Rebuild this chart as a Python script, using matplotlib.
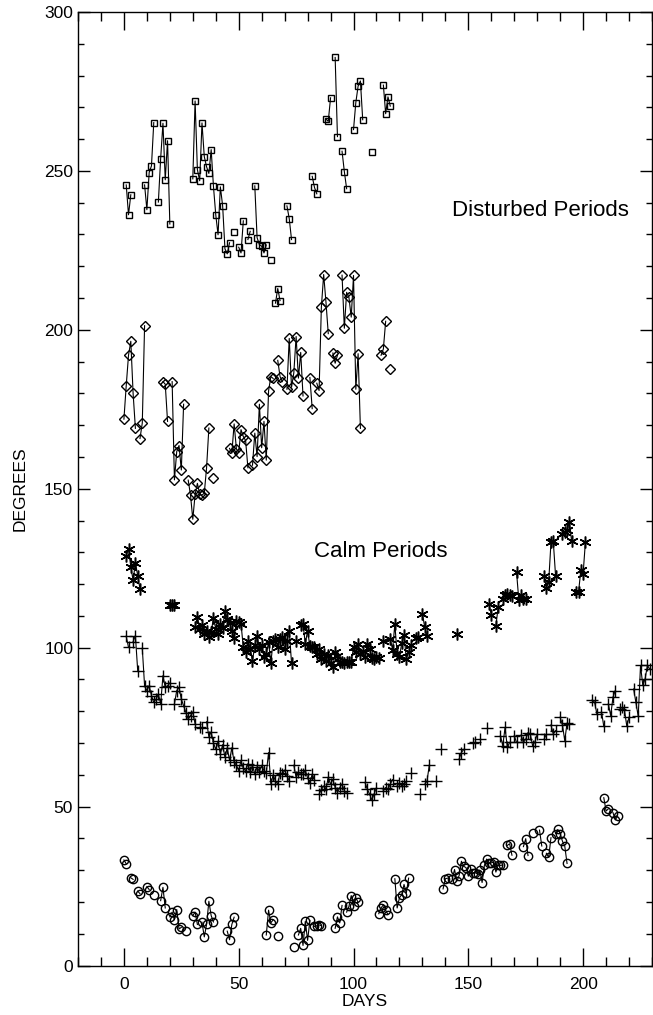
import matplotlib
matplotlib.use('Agg')
import matplotlib.pyplot as plt
import numpy as np
from matplotlib.ticker import MultipleLocator

plt.rcParams['font.family'] = ['Liberation Sans', 'DejaVu Sans']

# Disturbed periods, upper curve (squares)
sq_days = [1, 2, 3, 9, 10, 11, 12, 13, 15, 16, 17, 18, 19, 20,
           30, 31, 32, 33, 34, 35, 36, 37, 38, 39, 40, 41, 42, 43, 44, 45, 46,
           48, 50, 51, 52, 54, 55, 57, 58, 59, 60, 61, 62, 64, 66, 67, 68,
           71, 72, 73, 82, 83, 84, 88, 89, 90, 92, 93, 95, 96, 97,
           100, 101, 102, 103, 104, 108, 113, 114, 115, 116]
sq_vals = [245.6, 236.2, 242.5, 245.6, 237.8, 249.5, 251.6, 265.2, 240.2, 253.9, 265.0, 247.2, 259.5, 233.3,
           247.5, 272.0, 250.4, 246.9, 265.1, 254.5, 251.3, 249.2, 256.7, 245.1, 236.2, 229.9, 245.0, 239.0, 225.5, 223.9, 227.4,
           230.7, 226.0, 224.2, 234.3, 228.4, 231.0, 245.3, 229.0, 226.8, 226.3, 224.2, 226.7, 222.1, 208.4, 213.0, 209.2,
           239.0, 235.0, 228.4, 248.3, 244.8, 242.8, 266.3, 265.6, 273.0, 285.7, 260.8, 256.2, 249.8, 244.4,
           263.0, 271.5, 276.7, 278.3, 266.1, 255.8, 277.0, 268.0, 273.3, 270.4]

# Disturbed periods, lower curve (diamonds)
di_days = [0, 1, 2, 3, 4, 5, 7, 8, 9, 17, 18, 19, 21, 22, 23, 24, 25, 26,
           28, 29, 30, 31, 32, 33, 34, 35, 36, 37, 39,
           46, 47, 48, 49, 50, 51, 52, 53, 54, 56, 57, 58, 59, 60, 61, 62, 63, 64, 65,
           67, 68, 69, 71, 72, 73, 74, 75, 76, 77, 78, 81, 82, 84, 85, 86, 87, 88, 89,
           91, 92, 93, 95, 96, 97, 98, 99, 100, 101, 102, 103, 112, 113, 114, 116]
di_vals = [171.9, 182.4, 192.0, 196.4, 180.0, 169.0, 165.8, 170.7, 201.3, 183.7, 182.9, 171.2, 183.7, 152.8, 161.7, 163.6, 155.9, 176.6,
           152.7, 148.0, 140.4, 148.2, 151.7, 148.3, 148.0, 148.6, 156.6, 169.1, 153.3,
           162.7, 161.2, 170.4, 162.5, 161.4, 168.6, 166.4, 165.2, 156.6, 157.4, 167.5, 160.1, 176.6, 162.9, 171.2, 159.0, 180.8, 185.3, 184.7,
           190.4, 185.3, 183.7, 181.3, 197.3, 181.9, 186.5, 197.9, 184.8, 192.9, 179.2, 185.0, 175.2, 183.2, 180.9, 207.2, 217.4, 208.7, 198.8,
           192.7, 189.5, 192.0, 217.2, 200.5, 211.8, 210.2, 204.0, 217.1, 181.3, 192.5, 169.0, 192.0, 194.0, 202.7, 187.7]

# Calm periods, upper curve (asterisks)
as_days = [1, 2, 3, 4, 5, 6, 7, 20, 21, 22] + list(range(31, 74)) + \
          [75, 77, 78, 79, 80, 81, 82, 83, 84, 85, 86, 87, 88, 89, 90, 91, 92, 93, 94, 95, 96, 97, 98, 99,
           100, 101, 102, 103, 104, 105, 106, 107, 108, 109, 110, 111, 113, 116, 117, 118, 119, 120, 121, 122, 123, 124, 125,
           127, 128, 130, 131, 132, 145,
           159, 160, 162, 163, 165, 166, 167, 168, 169, 171, 172, 173, 174, 175,
           183, 184, 185, 186, 187, 188, 191, 192, 193, 194, 195, 197, 198, 199, 200, 201]
as_vals = [128.9, 131.2, 125.4, 121.2, 126.7, 122.7, 118.5, 113.5, 113.5, 113.5,
           106.4, 109.6, 105.9, 107.2, 104.3, 105.4, 103.3, 104.9, 109.3, 105.9, 104.3, 107.5, 106.1, 111.4, 109.1,
           107.8, 105.4, 103.0, 108.5, 108.0, 107.5, 100.1, 98.5, 102.2, 99.6, 95.9, 100.7, 103.8, 99.6, 100.9,
           97.0, 98.0, 101.7, 95.2, 102.2, 102.8, 100.1, 102.8, 103.3, 99.6, 102.2, 105.4, 95.2,
           102.2, 107.0, 107.5, 101.2, 105.4, 100.4, 100.1, 100.1, 98.0, 99.6, 96.4, 98.0, 95.9, 97.7, 95.2, 93.8, 98.5,
           97.5, 95.4, 95.4, 95.2, 95.4, 95.4, 95.4,
           100.1, 98.5, 101.2, 98.0, 99.1, 97.0, 101.2, 99.6, 96.8, 96.5, 97.0, 96.8, 102.2, 102.8, 99.4, 107.3, 98.0, 97.0,
           101.4, 104.0, 96.5, 98.6, 100.7, 103.0, 103.3, 110.7, 106.5, 103.6, 104.4,
           113.8, 110.4, 106.8, 112.8, 115.4, 116.7, 117.0, 116.5, 116.2, 123.8, 114.9, 116.5, 115.4, 115.4,
           122.6, 118.8, 120.7, 133.1, 133.5, 122.6, 135.7, 136.4, 137.0, 139.6, 133.5, 117.4, 117.4, 124.4, 123.3, 133.3]

# Calm periods, middle curve (plus signs)
pl_days = [1, 2, 4, 5, 6, 8, 9, 10, 11, 12, 13, 14, 15, 16, 17, 18, 19, 20, 22, 23, 24, 25, 26, 27, 28, 29, 30, 31, 33, 34,
           36, 37, 38, 39, 40, 41, 42, 43, 44, 45, 46, 47, 48, 49, 50, 51, 52, 53, 54, 55, 56, 57, 58, 59, 60, 61, 62, 63,
           64, 65, 66, 67, 68, 69, 70, 71, 72, 74, 75, 76, 77, 78, 79, 80, 81, 82, 83, 85, 86, 87, 88, 89, 90, 91, 92, 93,
           94, 95, 96, 97, 105, 106, 107, 108, 109, 110, 113, 114, 115, 116, 117, 119, 120, 121, 122, 123, 125, 129, 131, 132,
           133, 136, 138, 146, 147, 148, 152, 153, 155, 158, 164, 165, 166, 167, 168, 170, 171, 173, 174, 175, 176, 177, 178,
           179, 180, 183, 184, 186, 187, 188, 190, 191, 192, 193, 194, 204, 205, 206, 208, 209, 211, 212, 213, 214, 216, 217,
           218, 219, 220, 222, 223, 224, 225, 226, 227, 228, 229]
pl_vals = [103.6, 100.1, 101.9, 103.8, 92.8, 99.8, 88.0, 86.5, 88.0, 84.9, 82.8, 83.8, 85.4, 82.3, 91.2, 87.5, 88.0, 88.9,
           82.3, 86.5, 87.5, 83.8, 81.7, 79.6, 77.5, 78.6, 79.8, 76.0, 74.9, 74.6,
           76.7, 72.0, 73.5, 70.0, 68.0, 70.5, 66.5, 69.5, 65.5, 68.5, 64.5, 68.5, 64.0, 63.0, 61.3, 64.5, 62.0, 61.3, 63.5,
           61.0, 63.0, 60.2, 62.5, 61.0, 63.0, 61.3, 60.5, 67.0, 57.1, 60.0, 58.0, 57.1, 60.7, 60.2, 61.5, 59.7, 58.1, 63.0,
           59.2, 61.0, 60.2, 60.2, 61.5, 59.0, 57.4, 60.2, 58.5, 53.9, 55.3, 56.5, 55.5, 59.2, 57.0, 58.6, 56.0, 54.4,
           56.0, 57.1, 55.0, 54.2, 57.6, 55.5, 53.9, 52.1, 54.0, 56.0, 55.0, 56.0, 55.5, 57.0, 58.5, 56.5, 57.5, 56.5, 57.0,
           58.0, 60.5, 53.9, 57.0, 58.0, 63.0, 58.0, 68.1, 65.0, 67.0, 68.0, 70.0, 70.2, 71.4, 74.6, 72.3, 69.1, 74.9, 68.6,
           70.2, 72.3, 70.2, 72.5, 70.2, 71.2, 73.3, 72.8, 69.1, 70.4, 72.8, 71.2, 72.8, 75.7, 72.8, 73.9, 78.1, 75.7, 70.7,
           76.3, 76.0, 83.6, 82.8, 79.1, 79.9, 75.2, 82.3, 78.6, 84.4, 86.5, 80.7, 81.2, 80.4, 75.4, 78.1, 87.0, 82.8, 78.4,
           94.4, 88.1, 90.2, 94.4, 93.3]

# Calm periods, lower curve (circles)
ci_days = [0, 1, 3, 4, 6, 7, 10, 11, 13, 16, 17, 18, 20, 21, 22, 23, 24, 25, 27, 30, 31, 32, 34, 35, 36, 37, 38, 39,
           45, 46, 47, 48, 62, 63, 64, 65, 67, 74, 76, 77, 78, 79, 80, 81, 83, 84, 85, 86, 92, 93, 94, 95, 97, 98, 99,
           100, 101, 102, 111, 112, 113, 114, 115, 118, 119, 120, 121, 122, 123, 124,
           139, 140, 141, 143, 144, 145, 146, 147, 148, 149, 150, 151, 152, 153, 154, 155, 156, 157, 158, 159, 160,
           161, 162, 163, 164, 165, 167, 168, 169, 174, 175, 176, 178, 181, 182, 184, 185, 186, 188, 189, 190, 191,
           192, 193, 209, 210, 211, 213, 214, 215]
ci_vals = [33.2, 32.0, 27.6, 27.1, 23.4, 22.6, 24.8, 23.9, 22.3, 20.4, 24.6, 18.1, 15.3, 16.8, 14.4, 17.6, 11.5, 12.0,
           10.8, 15.7, 16.8, 12.9, 13.6, 9.0, 12.9, 20.2, 15.7, 13.7, 10.8, 8.1, 12.9, 15.2, 9.6, 17.4, 13.4, 14.4, 9.4,
           5.7, 9.6, 11.7, 6.3, 13.9, 7.9, 14.2, 12.3, 12.5, 12.8, 12.5, 11.7, 15.3, 13.4, 18.9, 16.8, 18.6, 22.0, 18.6,
           21.3, 19.9, 16.3, 18.1, 19.1, 17.4, 16.0, 27.3, 18.1, 21.3, 22.3, 25.5, 22.8, 27.5,
           24.1, 27.3, 27.5, 27.3, 30.2, 26.5, 28.3, 32.8, 31.2, 30.8, 28.1, 30.4, 29.2, 29.2, 28.8, 30.0, 26.1, 31.5,
           33.5, 32.3, 32.3, 32.5, 29.4, 31.5, 31.5, 31.6, 37.8, 38.3, 34.7, 37.4, 39.9, 34.6, 41.6, 42.6, 37.6, 35.3,
           34.0, 40.2, 41.5, 42.8, 41.5, 39.1, 37.6, 32.1, 52.8, 48.6, 49.3, 48.1, 45.8, 47.0]


def gapped(days, vals):
    # break the line wherever a day is missing
    d = np.asarray(days, dtype=float)
    v = np.asarray(vals, dtype=float)
    cut = np.where(np.diff(d) > 1)[0] + 1
    return np.insert(d, cut, np.nan), np.insert(v, cut, np.nan)


fig = plt.figure(figsize=(6.53, 10.15), dpi=100)
ax = fig.add_axes([78 / 653, 1 - 965.5 / 1015, (652 - 78) / 653, (965.5 - 12) / 1015])

styles = [
    (sq_days, sq_vals, dict(marker='s', ms=5, mfc='none')),
    (di_days, di_vals, dict(marker='D', ms=4.8, mfc='none')),
    (as_days, as_vals, dict(marker=(6, 2, 0), ms=8.5, mew=1.1)),
    (pl_days, pl_vals, dict(marker='+', ms=8, mew=1.0)),
    (ci_days, ci_vals, dict(marker='o', ms=6, mfc='none')),
]
for days, vals, kw in styles:
    x, y = gapped(days, vals)
    ax.plot(x, y, color='black', lw=0.8, mec='black', **kw)

ax.text(181.4, 237.4, 'Disturbed Periods', fontsize=16, ha='center', va='center')
ax.text(111.8, 130.2, 'Calm Periods', fontsize=16, ha='center', va='center')

ax.set_xlim(-20, 230)
ax.set_ylim(0, 300)
ax.xaxis.set_major_locator(MultipleLocator(50))
ax.xaxis.set_minor_locator(MultipleLocator(10))
ax.yaxis.set_major_locator(MultipleLocator(50))
ax.yaxis.set_minor_locator(MultipleLocator(10))
ax.tick_params(which='both', direction='in', top=True, right=True, labelsize=12.5, width=1)
ax.tick_params(axis='x', which='major', length=13)
ax.tick_params(axis='x', which='minor', length=6.5)
ax.tick_params(axis='y', which='major', length=8.5)
ax.tick_params(axis='y', which='minor', length=4.5)
ax.tick_params(axis='x', pad=8)
for s in ax.spines.values():
    s.set_linewidth(1)

ax.set_xlabel('DAYS', fontsize=12.5, labelpad=2)
ax.set_ylabel('DEGREES', fontsize=12.5, labelpad=12)

fig.savefig('out.png', dpi=100)
